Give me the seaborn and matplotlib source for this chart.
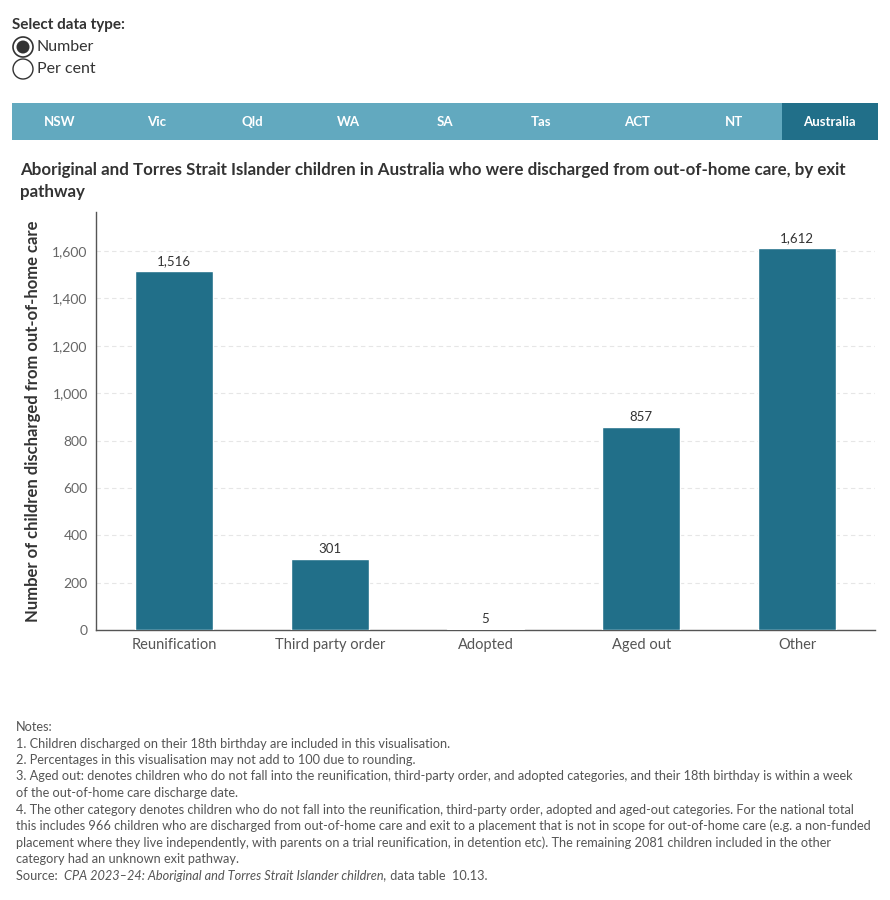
import pandas as pd
import matplotlib.pyplot as plt
import seaborn as sns
from matplotlib.patches import Rectangle, Ellipse

# Data
pathways = ["Reunification", "Third party order", "Adopted", "Aged out", "Other"]
children = [1516, 301, 5, 857, 1612]
states = ["NSW", "Vic", "Qld", "WA", "SA", "Tas", "ACT", "NT", "Australia"]
y_ticks = [0, 200, 400, 600, 800, 1000, 1200, 1400, 1600]

notes = [
    "Notes:",
    "1. Children discharged on their 18th birthday are included in this visualisation.",
    "2. Percentages in this visualisation may not add to 100 due to rounding.",
    "3. Aged out: denotes children who do not fall into the reunification, third-party order, and adopted categories, and their 18th birthday is within a week",
    "of the out-of-home care discharge date.",
    "4. The other category denotes children who do not fall into the reunification, third-party order, adopted and aged-out categories. For the national total",
    "this includes 966 children who are discharged from out-of-home care and exit to a placement that is not in scope for out-of-home care (e.g. a non-funded",
    "placement where they live independently, with parents on a trial reunification, in detention etc). The remaining 2081 children included in the other",
    "category had an unknown exit pathway.",
]

df = pd.DataFrame({"pathway": pathways, "children": children})

sns.set_theme(style="white")
plt.rcParams["font.family"] = ["Lato", "DejaVu Sans"]

W, H = 890, 900
fig = plt.figure(figsize=(W / 100, H / 100), dpi=100)


def fx(px):
    return px / W


def fy(py):
    return 1 - py / H


bar_col = "#216f89"
tab_col = "#62a9bf"

# header / radio buttons
fig.text(fx(12), fy(25), "Select data type:", fontsize=11, fontweight="bold", color="#333333", va="center")
fig.add_artist(Ellipse((fx(23), fy(47)), 20 / W, 20 / H, facecolor="white", edgecolor="#333333", lw=1.2))
fig.add_artist(Ellipse((fx(23), fy(47)), 13 / W, 13 / H, facecolor="#333333", edgecolor="none"))
fig.add_artist(Ellipse((fx(23), fy(69)), 20 / W, 20 / H, facecolor="white", edgecolor="#333333", lw=1.0))
fig.text(fx(37), fy(47), "Number", fontsize=11.5, color="#333333", va="center")
fig.text(fx(37), fy(69), "Per cent", fontsize=11.5, color="#333333", va="center")

# state tabs
x0, x1, yt, yb = 12, 878, 103, 140
seg = (x1 - x0) / len(states)
for i, s in enumerate(states):
    col = bar_col if s == "Australia" else tab_col
    fig.add_artist(Rectangle((fx(x0 + i * seg), fy(yb)), seg / W, (yb - yt) / H,
                             facecolor=col, edgecolor="none"))
    fig.text(fx(x0 + (i + 0.5) * seg), fy((yt + yb) / 2), s, color="white",
             fontsize=9.5, fontweight="bold", ha="center", va="center")

# title
fig.text(fx(20), fy(170), "Aboriginal and Torres Strait Islander children in Australia who were discharged from out-of-home care, by exit",
         fontsize=12.2, fontweight="bold", color="#333333", va="center")
fig.text(fx(20), fy(192), "pathway", fontsize=12.2, fontweight="bold", color="#333333", va="center")

# chart
ax = fig.add_axes([fx(96), fy(630), fx(875) - fx(96), fy(212) - fy(630)])
sns.barplot(data=df, x="pathway", y="children", color=bar_col, width=0.5, saturation=1, ax=ax)
ax.bar_label(ax.containers[0], labels=[f"{v:,}" for v in children], padding=3, fontsize=9.5, color="#333333")

ax.set_ylim(0, 1765)
ax.set_xlim(-0.5, len(pathways) - 0.5)
ax.set_yticks(y_ticks)
ax.set_yticklabels([f"{v:,}" for v in y_ticks], fontsize=10, color="#666666")
ax.yaxis.grid(True, linestyle=(0, (4, 3)), color="#e6e6e6", lw=0.8)
ax.set_axisbelow(True)
ax.tick_params(axis="y", length=0, pad=6)
ax.tick_params(axis="x", length=0, labelsize=10.5, labelcolor="#555555", pad=6)
ax.set_xticks([i - 0.5 for i in range(len(pathways) + 1)], minor=True)
ax.tick_params(axis="x", which="minor", length=6, color="#555555", width=1)
ax.set_xlabel("")
ax.set_ylabel("Number of children discharged from out-of-home care", fontsize=12,
              fontweight="bold", color="#333333", labelpad=8)
for sp in ["top", "right"]:
    ax.spines[sp].set_visible(False)
for sp in ["left", "bottom"]:
    ax.spines[sp].set_color("#555555")
    ax.spines[sp].set_linewidth(1)
ax.spines["bottom"].set_zorder(0.5)

# notes
ny = 727
fs = 9.2
for i, line in enumerate(notes):
    fig.text(fx(16), fy(ny + i * 16.5), line, fontsize=fs, color="#555555", va="center")
src_y = ny + len(notes) * 16.5
t1 = fig.text(fx(16), fy(src_y), "Source:  ", fontsize=fs, color="#555555", va="center")
t2 = fig.text(0, 0, "CPA 2023\u201324: Aboriginal and Torres Strait Islander children,", fontsize=fs,
              color="#555555", va="center", style="italic")
t3 = fig.text(0, 0, " data table  10.13.", fontsize=fs, color="#555555", va="center")
fig.canvas.draw()
r = fig.canvas.get_renderer()
b1 = t1.get_window_extent(r)
t2.set_position((b1.x1 / W, fy(src_y)))
b2 = t2.get_window_extent(r)
t3.set_position((b2.x1 / W, fy(src_y)))

fig.savefig("out.png", dpi=100)
